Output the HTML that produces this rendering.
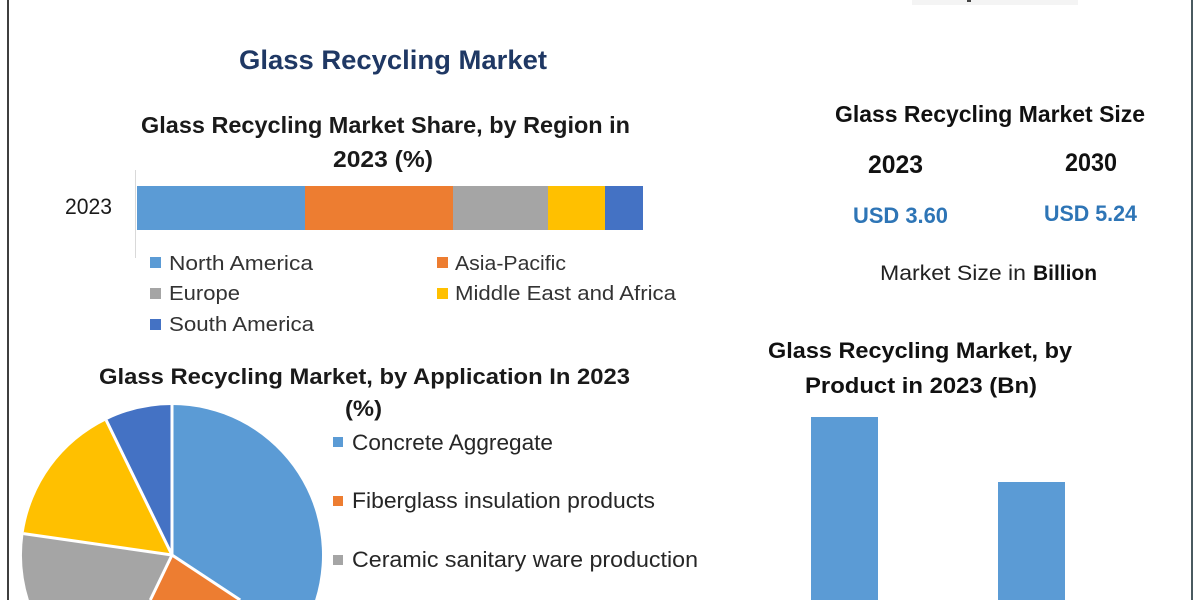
<!DOCTYPE html>
<html>
<head>
<meta charset="utf-8">
<style>
html,body{margin:0;padding:0;background:#fff;width:1200px;height:600px;overflow:hidden;}
svg{display:block;overflow:hidden;}
text{font-family:"Liberation Sans",Arial,sans-serif;}
</style>
</head>
<body>
<svg width="1200" height="600" viewBox="0 0 1200 600" xmlns="http://www.w3.org/2000/svg">
  <rect x="0" y="0" width="1200" height="600" fill="#ffffff"/>
  <!-- borders -->
  <rect x="7" y="0" width="2" height="600" fill="#3f3f3f"/>
  <rect x="1191" y="0" width="2" height="600" fill="#4a5a60"/>
  <!-- faint cut-off text at top right -->
  <rect x="912" y="0" width="166" height="5" fill="#f4f4f4"/>
  <rect x="967" y="0" width="4" height="2" fill="#444"/>

  <!-- Main title -->
  <text x="239" y="69" font-size="27" font-weight="bold" fill="#1f3864" textLength="308" lengthAdjust="spacingAndGlyphs">Glass Recycling Market</text>

  <!-- Region share -->
  <text x="141" y="133" font-size="23" font-weight="bold" fill="#1a1a1a" textLength="489" lengthAdjust="spacingAndGlyphs">Glass Recycling Market Share, by Region in</text>
  <text x="333" y="167" font-size="23" font-weight="bold" fill="#1a1a1a" textLength="100" lengthAdjust="spacingAndGlyphs">2023 (%)</text>
  <text x="65" y="214" font-size="22" fill="#1a1a1a" textLength="47" lengthAdjust="spacingAndGlyphs">2023</text>
  <rect x="135" y="170" width="1" height="88" fill="#d9d9d9"/>
  <rect x="137" y="186" width="168" height="44" fill="#5b9bd5"/>
  <rect x="305" y="186" width="148" height="44" fill="#ed7d31"/>
  <rect x="453" y="186" width="95" height="44" fill="#a5a5a5"/>
  <rect x="548" y="186" width="57" height="44" fill="#ffc000"/>
  <rect x="605" y="186" width="38" height="44" fill="#4472c4"/>

  <!-- region legend -->
  <rect x="150" y="257" width="11" height="11" fill="#5b9bd5"/>
  <text x="169" y="270" font-size="20" fill="#333" textLength="144" lengthAdjust="spacingAndGlyphs">North America</text>
  <rect x="437" y="257" width="11" height="11" fill="#ed7d31"/>
  <text x="455" y="270" font-size="20" fill="#333" textLength="111" lengthAdjust="spacingAndGlyphs">Asia-Pacific</text>
  <rect x="150" y="288" width="11" height="11" fill="#a5a5a5"/>
  <text x="169" y="300" font-size="20" fill="#333" textLength="71" lengthAdjust="spacingAndGlyphs">Europe</text>
  <rect x="437" y="288" width="11" height="11" fill="#ffc000"/>
  <text x="455" y="300" font-size="20" fill="#333" textLength="221" lengthAdjust="spacingAndGlyphs">Middle East and Africa</text>
  <rect x="150" y="319" width="11" height="11" fill="#4472c4"/>
  <text x="169" y="331" font-size="20" fill="#333" textLength="145" lengthAdjust="spacingAndGlyphs">South America</text>

  <!-- Application pie -->
  <text x="99" y="384" font-size="22" font-weight="bold" fill="#1a1a1a" textLength="531" lengthAdjust="spacingAndGlyphs">Glass Recycling Market, by Application In 2023</text>
  <text x="345" y="416" font-size="22" font-weight="bold" fill="#1a1a1a" textLength="37" lengthAdjust="spacingAndGlyphs">(%)</text>

  <g>
    <path d="M172,555 L172,405 A150,150 0 0 1 315.1,600 L240.2,600 Z" fill="#5b9bd5"/>
    <path d="M172,555 L240.2,600 L150.3,600 Z" fill="#ed7d31"/>
    <path d="M172,555 L150.3,600 L28.9,600 A150,150 0 0 1 23.5,533.6 Z" fill="#a5a5a5"/>
    <path d="M172,555 L23.5,533.6 A150,150 0 0 1 106.2,420.2 Z" fill="#ffc000"/>
    <path d="M172,555 L106.2,420.2 A150,150 0 0 1 172,405 Z" fill="#4472c4"/>
  </g>
  <g stroke="#ffffff" stroke-width="3" stroke-linecap="butt">
    <line x1="172" y1="555" x2="172" y2="405"/>
    <line x1="172" y1="555" x2="240.2" y2="600"/>
    <line x1="172" y1="555" x2="150.3" y2="600"/>
    <line x1="172" y1="555" x2="23.5" y2="533.6"/>
    <line x1="172" y1="555" x2="106.2" y2="420.2"/>
  </g>

  <rect x="333" y="437" width="10" height="10" fill="#5b9bd5"/>
  <text x="352" y="450" font-size="22" fill="#262626" textLength="201" lengthAdjust="spacingAndGlyphs">Concrete Aggregate</text>
  <rect x="333" y="496" width="10" height="10" fill="#ed7d31"/>
  <text x="352" y="508" font-size="22" fill="#262626" textLength="303" lengthAdjust="spacingAndGlyphs">Fiberglass insulation products</text>
  <rect x="333" y="555" width="10" height="10" fill="#a5a5a5"/>
  <text x="352" y="567" font-size="22" fill="#262626" textLength="346" lengthAdjust="spacingAndGlyphs">Ceramic sanitary ware production</text>

  <!-- Right: market size -->
  <text x="835" y="122" font-size="23" font-weight="bold" fill="#111" textLength="310" lengthAdjust="spacingAndGlyphs">Glass Recycling Market Size</text>
  <text x="868" y="173" font-size="25" font-weight="bold" fill="#111" textLength="55" lengthAdjust="spacingAndGlyphs">2023</text>
  <text x="1065" y="171" font-size="25" font-weight="bold" fill="#111" textLength="52" lengthAdjust="spacingAndGlyphs">2030</text>
  <text x="853" y="223" font-size="22" font-weight="bold" fill="#2e75b6" textLength="95" lengthAdjust="spacingAndGlyphs">USD 3.60</text>
  <text x="1044" y="221" font-size="22" font-weight="bold" fill="#2e75b6" textLength="93" lengthAdjust="spacingAndGlyphs">USD 5.24</text>
  <text x="880" y="280" font-size="21" fill="#222" textLength="146" lengthAdjust="spacingAndGlyphs">Market Size in</text>
  <text x="1033" y="280" font-size="21" font-weight="bold" fill="#111" textLength="64" lengthAdjust="spacingAndGlyphs">Billion</text>

  <!-- Right: product bars -->
  <text x="768" y="358" font-size="22" font-weight="bold" fill="#111" textLength="304" lengthAdjust="spacingAndGlyphs">Glass Recycling Market, by</text>
  <text x="805" y="393" font-size="22" font-weight="bold" fill="#111" textLength="232" lengthAdjust="spacingAndGlyphs">Product in 2023 (Bn)</text>
  <rect x="811" y="417" width="67" height="183" fill="#5b9bd5"/>
  <rect x="998" y="482" width="67" height="118" fill="#5b9bd5"/>
</svg>
</body>
</html>
